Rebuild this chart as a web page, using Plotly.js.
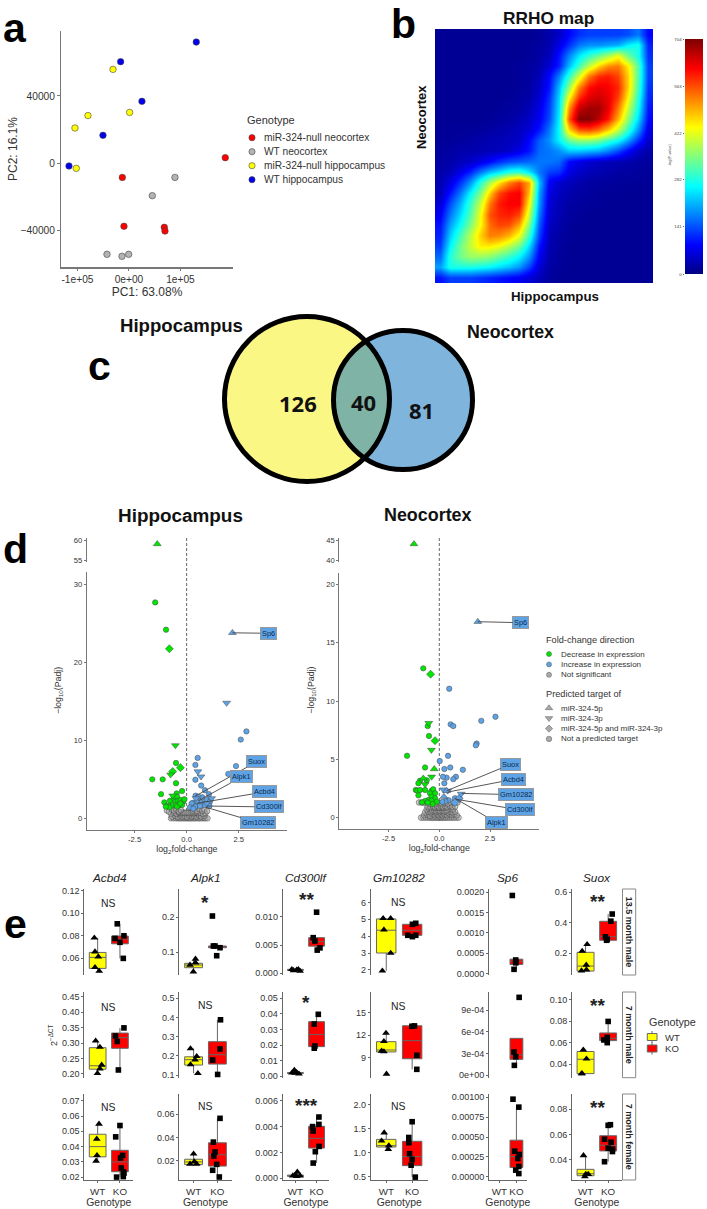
<!DOCTYPE html>
<html><head><meta charset="utf-8">
<script src="https://cdn.plot.ly/plotly-3.0.1.min.js"></script>
<style>html,body{margin:0;padding:0;background:#fff}#g{width:707px;height:1209px}</style></head>
<body><div id="g"></div>
<script>
// ---------- panel a: PCA ----------
const pcaNames = ['miR-324-null neocortex','WT neocortex','miR-324-null hippocampus','WT hippocampus'];
const pcaColors = ['#ff0000','#b3b3b3','#ffff00','#0000ee'];
const pcaKoNeo = [[187000,3200],[-12900,-8600],[-9700,-37800],[68600,-38400],[69900,-40600]];
const pcaWtNeo = [[89300,-8600],[45300,-19500],[-42700,-54500],[-13600,-55700],[-600,-54500]];
const pcaKoHip = [[-31000,55900],[-79600,28300],[1300,30200],[-104900,20900],[-102300,-3200]];
const pcaWtHip = [[130700,72200],[-16200,60500],[25200,36800],[-50500,16500],[-116500,-1800]];

const rrhoTicks = [0,141,282,422,563,704];
const rrhoScale = [[0,'#00007f'],[0.125,'#0000ff'],[0.375,'#00ffff'],[0.625,'#ffff00'],[0.875,'#ff0000'],[1,'#7f0000']];
const rrhoZ = [
[15,15,15,15,15,15,15,15,15,15,18,30,50,90,120,130,130,130,130,140,170,90],
[15,15,15,15,15,15,15,15,15,18,22,35,70,120,170,190,190,200,210,260,280,110],
[15,15,15,15,15,15,15,15,15,18,25,40,100,180,250,300,340,380,430,340,280,120],
[15,15,15,15,15,15,15,15,18,22,30,60,110,220,310,400,470,520,530,450,320,130],
[15,15,15,15,15,15,15,15,18,22,40,90,180,300,420,540,590,600,570,470,320,130],
[15,15,15,15,15,15,15,15,18,25,50,100,220,370,530,610,630,620,590,470,310,120],
[15,15,15,15,15,15,15,18,22,30,60,120,240,450,590,640,650,630,570,440,290,110],
[15,15,15,15,15,15,18,22,25,40,70,130,250,520,660,680,680,630,530,400,270,100],
[15,15,15,15,15,18,22,25,35,50,80,140,260,560,700,700,660,600,490,360,240,90],
[18,18,18,18,22,25,30,35,45,60,100,170,270,470,560,570,540,480,400,300,190,70],
[18,18,22,25,30,35,38,42,50,90,150,190,260,340,370,370,350,310,270,200,120,50],
[22,25,30,32,35,38,40,50,70,100,160,170,190,230,230,220,210,180,140,90,50,30],
[25,30,40,50,70,90,120,140,150,160,170,170,160,90,70,55,45,40,35,30,25,20],
[30,40,70,110,170,220,250,290,300,250,170,130,120,70,50,40,35,30,25,22,20,18],
[35,70,120,190,290,380,460,530,570,500,220,80,55,40,32,25,22,20,18,18,18,15],
[40,100,170,260,350,470,570,610,620,480,200,70,45,32,25,22,18,18,18,15,15,15],
[60,140,210,300,400,530,600,620,620,440,190,60,38,25,22,18,18,15,15,15,15,15],
[80,170,240,320,430,560,590,600,570,400,170,55,35,22,18,15,15,15,15,15,15,15],
[100,200,270,350,440,540,570,560,500,350,150,45,30,18,15,15,15,15,15,15,15,15],
[110,230,310,390,470,530,520,490,430,300,130,40,25,18,15,15,15,15,15,15,15,15],
[130,260,340,400,450,450,430,390,340,240,100,35,22,15,15,15,15,15,15,15,15,15],
[160,290,340,370,370,360,330,300,260,190,80,32,20,15,15,15,15,15,15,15,15,15],
[200,280,280,280,270,260,240,220,190,130,60,25,18,15,15,15,15,15,15,15,15,15],
[100,130,130,130,120,110,100,90,80,60,40,22,15,15,15,15,15,15,15,15,15,15]];

// ---------- panel c: Venn ----------
const vennNames = ['Hippocampus','Neocortex'];
const vennCounts = [126,40,81];

// ---------- panel d: volcano plots [log2FC, -log10(Padj)] ----------
const hipDecCircle = [[-1.51,27.7],[-.99,24.2],[-.51,7.1],[-1.65,5],[-1.15,5],[-.51,4.5],[-.22,3.5],[-1.23,3.1],[-.48,3.2],[-1.07,2.05],[-.96,1.6],[-.8,1.6],[-.8,2.27],[-.61,2.56],[-.46,2.78],[-.54,2.14],[-.4,2.27],[-.29,2.35],[-.16,2.14],[-.11,2.44],[-.67,1.7],[-.51,1.7],[-.35,1.67],[-.22,1.7],[-.83,1.4],[-1,1.5],[-.46,1.5],[-.3,1.9]];
const hipDecDiamond = [[-.83,21.75],[-.3,6.5],[-.67,6]];
const hipDecDown = [[-.54,9.35],[-.77,5.6],[-.67,2.9]];
const hipDecUp = [[-1.41,59]];
const hipIncCircle = [[2.87,11.15],[2.6,10.1],[.53,7.75],[.42,6.85],[2.37,6.7],[2,5.7],[.42,4.95],[.7,4.2],[.88,3.6],[1.07,3.1],[.43,2.9],[.75,2.7],[.32,2],[.56,2.78],[.24,1.92],[.51,2.14],[.72,2],[.96,2.35],[1.12,2.14],[.42,1.5],[.64,1.58],[.88,1.7],[1.09,1.58],[.16,1.4],[.32,1.24]];
const hipIncDown = [[1.92,14.8],[.54,6],[.69,5.35],[.45,2.56],[.96,1.92],[1.2,2.56]];
const hipIncUp = [[2.2,23.8]];
const hipGrey = [[-.75,0],[-.62,0],[-.5,0],[-.4,0],[-.32,0],[-.25,0],[-.15,0],[-.08,0],[0,0],[.08,0],[.15,0],[.22,0],[.3,0],[.38,0],[.45,0],[.55,0],[.62,0],[.72,0],[.82,0],[.9,0],[1,0],
[-.7,.2],[-.55,.3],[-.42,.15],[-.3,.35],[-.2,.2],[-.1,.3],[.02,.15],[.12,.35],[.25,.2],[.35,.3],[.48,.2],[.6,.35],[.7,.2],[.85,.3],
[-.75,.6],[-.6,.7],[-.48,.55],[-.36,.7],[-.25,.6],[-.15,.7],[-.05,.65],[.05,.7],[.15,.62],[.25,.7],[.35,.6],[.45,.7],[.55,.65],[.65,.7],[.78,.55],[.9,.65],
[-.3,.72],[-.2,.75],[-.1,.72],[0,.75],[.1,.72],[.2,.75],[.3,.72],[-.4,.78],[.4,.78],
[-.95,1],[-.85,.85],[-.7,1.1],[-.6,.95],[-.5,1.15],[-.38,.9],[-.28,1.05],[.3,.95],[.42,1.1],[.5,.9],[.62,1.15],[.75,.95],[.85,1.1],[.98,.9]];
const neoDecCircle = [[-.79,12.8],[-.57,7.85],[-.51,7],[-1.59,5.3],[-.7,4.3],[-.62,3.2],[-.95,3.17],[-1.03,2.95],[-1.16,2.37],[-1.08,2.31],[-.95,2.37],[-.7,2.37],[-1.03,1.91],[-.38,2.3],[-.3,2.43],[-.46,2.09],[-.21,2.09],[-.38,1.8],[-.21,1.66],[-.54,1.51],[-.38,1.46],[-.7,1.43],[-.13,1.37],[-.85,1.31],[-.33,1.17],[-.57,1.29]];
const neoDecDiamond = [[-.43,12.3],[-.21,6.6]];
const neoDecDown = [[-.52,8.1],[-.39,5.8],[-.38,3.5],[-.7,2.85]];
const neoDecUp = [[-1.25,44],[-.25,4.17],[-.79,3.37]];
const neoIncCircle = [[.49,11.05],[2.77,8.65],[2.07,8.3],[.56,8],[.69,7.85],[1.84,6.35],[1.8,6.2],[.43,5.3],[.02,4.85],[.25,4.17],[.54,4.3],[1.16,4.1],[.82,3.5],[.69,3.3],[.36,3.43],[.18,3.5],[.25,2.95],[.77,1.66],[.45,1.5],[.3,1.4],[.15,1.35]];
const neoIncDown = [[1.08,2.03],[.41,2.3],[.2,2.4]];
const neoIncUp = [[1.9,16.8],[.23,1.8],[.36,2.3]];
const neoIncDiamond = [[.98,1.65],[.77,1.3]];
const neoGrey = [[-.9,0],[-.78,0],[-.66,0],[-.55,0],[-.45,0],[-.36,0],[-.28,0],[-.2,0],[-.12,0],[-.05,0],[.03,0],[.1,0],[.17,0],[.25,0],[.33,0],[.42,0],[.52,0],[.62,0],[.72,0],[.84,0],[.95,0],
[-.75,.2],[-.6,.25],[-.46,.15],[-.34,.3],[-.22,.2],[-.12,.3],[-.03,.2],[.06,.3],[.16,.2],[.26,.28],[.38,.2],[.5,.3],[.62,.22],[.74,.3],[.86,.2],
[-.7,.45],[-.55,.5],[-.42,.45],[-.3,.55],[-.2,.45],[-.1,.55],[0,.45],[.1,.55],[.2,.45],[.3,.55],[.42,.45],[.54,.5],[.66,.45],[.78,.5],
[-.62,.7],[-.5,.75],[-.38,.68],[-.28,.75],[-.18,.68],[-.08,.75],[.02,.68],[.12,.75],[.22,.68],[.32,.75],[.44,.68],[.56,.75],[.68,.7],
[-.35,.55],[-.25,.62],[-.15,.55],[-.05,.62],[.05,.55],[.15,.62],[.25,.55],[.35,.62],[-.3,.85],[-.2,.82],[-.1,.85],[0,.82],[.1,.85],[.2,.82],[.3,.85],
[-.58,.95],[-.44,.9],[-.32,1],[-.22,.9],[-.12,1],[-.02,.9],[.08,1],[.18,.9],[.28,1],[.4,.9],[.52,1],[.64,.92],[.78,.95],
[-1,1.3],[-.88,1.3],[-.75,1.25],[-.62,1.3],[-.48,1.2],[-.32,1.25],[-.16,1.2],[.02,1.25],[.12,1.2],[.28,1.25],[.42,1.2],[.58,1.3],[.74,1.25],[.9,1.3]];
const foldLegend = ['Decrease in expression','Increase in expression','Not significant'];
const targetLegend = ['miR-324-5p','miR-324-3p','miR-324-5p and miR-324-3p','Not a predicted target'];

// ---------- panel e: qPCR, indexed [row][gene] ----------
const eGenes = ['Acbd4','Alpk1','Cd300lf','Gm10282','Sp6','Suox'];
const eRows = ['13.5 month male','7 month male','7 month female'];
const eTickText = [
[['0.06','0.08','0.10','0.12'],['0.1','0.2'],['0.000','0.005','0.010'],['2','3','4','5','6'],['0.0000','0.0005','0.0010','0.0015','0.0020'],['0.2','0.4','0.6']],
[['0.20','0.25','0.30','0.35','0.40','0.45'],['0.1','0.2','0.3','0.4','0.5'],['0.00','0.01','0.02','0.03','0.04','0.05'],['9','12','15'],['0e+00','3e-04','6e-04','9e-04'],['0.04','0.06','0.08','0.10']],
[['0.02','0.03','0.04','0.05','0.06','0.07'],['0.02','0.04','0.06'],['0.000','0.002','0.004','0.006'],['0.5','1.0','1.5','2.0'],['0.00000','0.00025','0.00050','0.00075','0.00100'],['0.04','0.06','0.08']]];
const eYRange = [
[[.0449,.1215],[.0337,.2816],[-.0003,.0149],[1.7,6.79],[-.00004,.00208],[.055,.622]],
[[.188,.465],[.086,.533],[-.0009,.054],[6.39,17.74],[-.000037,.00115],[.0275,.107]],
[[.0182,.0744],[.0033,.0775],[-.00013,.00652],[.43,2.23],[-.00004,.00104],[.0236,.0922]]];
const eSignif = [['NS','*','**','NS','','**'],['NS','NS','*','NS','','**'],['NS','NS','***','NS','','**']];
const eWTPoints = [
[[[-.15,.078],[-.12,.0656],[.03,.0612],[-.12,.0517],[.07,.0484]],[[.08,.0798],[-.15,.0626],[.08,.0692],[-.01,.0432]],[[-.17,.0007],[.06,.0006],[.14,.0007],[.22,.0004],[-.09,.0005]],[[-.12,5.05],[.17,5.05],[-.09,4.38],[.17,3],[-.15,1.95]],[],[[.07,.257],[-.15,.213],[.03,.121],[-.18,.083],[.04,.09]]],
[[[-.09,.307],[.1,.287],[.18,.229],[.1,.217],[-.01,.202]],[[-.13,.238],[.13,.197],[.06,.18],[-.13,.154],[.18,.109]],[[-.05,.004],[-.16,.0022],[.06,.0025],[.17,.0016],[-.02,.002]],[[-.01,12.3],[-.09,11.2],[-.18,9.93],[-.09,9.85],[.01,6.88]],[],[[-.1,.0534],[.04,.045],[-.15,.0313],[-.18,.0313]]],
[[[.06,.0548],[-.04,.045],[-.03,.0343],[-.07,.0306]],[[0,.0258],[.03,.0191],[-.15,.0171],[.13,.0171]],[[.09,.00049],[-.12,.0002],[.06,.00015],[.22,.0002],[-.02,.00025]],[[-.08,1.42],[-.18,1.25],[.1,1.15],[.08,1.07]],[],[[-.09,.0432],[.01,.0282],[.12,.0282],[-.03,.0263]]]];
const eKOPoints = [
[[[-.12,.0905],[.18,.0798],[-.22,.0775],[0,.074],[.15,.0597]],[[-.21,.2037],[-.1,.1173],[-.17,.1173],[.11,.1124],[-.03,.0893]],[[0,.0108],[-.16,.0063],[-.08,.0057],[.16,.0045],[.03,.0041]],[[.14,4.76],[.01,4.7],[-.17,4.05],[.01,3.97],[.14,4.05]],[[-.24,.00192],[-.04,.00033],[-.04,.00028],[-.14,.0001],[-.04,.00026]],[[.18,.457],[.12,.41],[-.12,.307],[-.07,.284],[-.04,.29]]],
[[[.18,.349],[-.2,.323],[-.12,.305],[-.07,.213]],[[.13,.388],[.11,.236],[-.2,.178],[.01,.103]],[[.08,.0397],[-.11,.0335],[-.08,.0194],[-.11,.018]],[[-.01,13.2],[.09,13.25],[.18,9.36],[.18,7.5]],[[.16,.001076],[-.14,.000318],[-.04,.000253],[-.12,.000134]],[[0,.0797],[-.04,.0649],[-.19,.0625],[-.04,.06]]],
[[[0,.0538],[-.19,.0464],[.12,.0343],[.03,.0326],[.06,.0261],[.15,.0235],[.18,.0227],[-.15,.0201],[.15,.0204]],[[.11,.0565],[-.17,.036],[-.1,.0274],[-.15,.024],[-.03,.0168],[-.2,.0117],[.08,.0059]],[[.11,.00474],[.11,.00417],[-.19,.004],[-.16,.00366],[.12,.00247],[-.06,.00206],[-.16,.00118]],[[0,1.65],[-.13,1.32],[-.13,1.21],[-.1,.98],[0,.86],[-.04,.74],[.12,.49]],[[-.2,.000975],[.14,.000875],[-.1,.000322],[.16,.00028],[.08,.00023],[.14,.00013],[-.04,.000084],[.14,.000041]],[[.1,.0677],[0,.0672],[-.16,.0561],[.13,.0538],[0,.049],[.19,.0482],[.19,.0463],[-.16,.0382]]]];
// box: [lower whisker, q1, median, q3, upper whisker]
const eWTBox = [
[[.0484,.0508,.0606,.065,.078],[.0432,.0547,.0625,.0674,.0798],[.0004,.0005,.0006,.0007,.0007],[1.95,3,4.35,5.02,5.05],null,[.081,.081,.114,.2045,.257]],
[[.202,.2155,.2265,.285,.307],[.109,.152,.18,.195,.238],[.0016,.0018,.0021,.0024,.004],[9.8,9.8,10.06,11.16,12.3],null,[.0313,.0313,.0446,.0518,.0534]],
[[.0306,.0333,.04,.0481,.0548],[.0166,.0166,.0189,.0212,.0258],[.00015,.00015,.0002,.00025,.00049],[1.07,1.12,1.15,1.28,1.42],null,[.0263,.027,.0286,.0321,.0432]]];
const eKOBox = [
[[.0597,.0727,.0769,.0796,.0905],[.1124,.1124,.1145,.1173,.1173],[.0041,.0048,.0056,.0063,.0063],[3.97,4.05,4.35,4.7,4.76],[.0001,.00022,.0003,.00035,.00035],[.284,.284,.307,.409,.457]],
[[.213,.283,.3175,.3323,.349],[.103,.157,.206,.274,.388],[.018,.019,.0267,.035,.0397],[7.5,8.9,11.3,13.27,13.27],[.000134,.000217,.00028,.000508,.000508],[.06,.0619,.064,.069,.0797]],
[[.0201,.0236,.03,.0376,.0538],[.0059,.0153,.0251,.0354,.0565],[.00118,.00234,.00309,.00402,.00474],[.49,.73,.92,1.24,1.65],[.000041,.000117,.000255,.00046,.000875],[.0382,.0468,.0513,.0589,.0677]]];

// ---------- layout helpers ----------
const W = 707, H = 1209, FONT = 'Liberation Sans, Arial, sans-serif', TXT = '#333';
const traces = [], shapes = [], annotations = [];
const layout = {width:W,height:H,margin:{l:0,r:0,t:0,b:0},paper_bgcolor:'#fff',plot_bgcolor:'rgba(0,0,0,0)',showlegend:false,font:{family:FONT,color:TXT},shapes,annotations};
let axisCount = 1;
function addAxes(l,r,t,b,xo,yo){
  axisCount++;
  const xk='xaxis'+axisCount, yk='yaxis'+axisCount;
  layout[xk]=Object.assign({domain:[l/W,r/W],anchor:'y'+axisCount,zeroline:false,showgrid:false,fixedrange:true},xo);
  layout[yk]=Object.assign({domain:[1-b/H,1-t/H],anchor:'x'+axisCount,zeroline:false,showgrid:false,fixedrange:true},yo);
  return ['x'+axisCount,'y'+axisCount];
}
function note(text,x,y,size,o){
  o=o||{};
  annotations.push({text,xref:'paper',yref:'paper',x:x/W,y:1-y/H,showarrow:false,xanchor:o.a||'center',yanchor:'middle',textangle:o.angle||0,font:{family:o.family||FONT,size,color:o.color||TXT}});
}
// page-wide pixel axes used by legend keys and the Venn diagram
layout.xaxis={domain:[0,1],range:[0,W],visible:false,fixedrange:true};
layout.yaxis={domain:[0,1],range:[H,0],visible:false,fixedrange:true};
function pts(p,x,y,name,marker){traces.push({type:'scatter',mode:'markers',x:p.map(d=>d[0]),y:p.map(d=>d[1]),xaxis:x,yaxis:y,name,marker,cliponaxis:false,hoverinfo:'skip'});}

// ---------- letters ----------
[['a',15,27.8],['b',403,24],['c',99,365.8],['d',15,548.8],['e',15,923.8]].forEach(d=>note('<b>'+d[0]+'</b>',d[1],d[2],41,{color:'#000'}));

// ---------- panel a ----------
(function(){
  const ax=addAxes(61,233,31,267,
    {range:[-132000,202000],tickvals:[-100000,0,100000],ticktext:['-1e+05','0e+00','1e+05'],showline:true,linecolor:'#777',linewidth:1.5,ticks:'outside',ticklen:2.5,tickcolor:'#777',tickfont:{size:10.2,color:TXT},title:{text:'PC1: 63.08%',font:{size:12,color:TXT},standoff:2}},
    {range:[-62090,78800],tickvals:[-40000,0,40000],showline:true,linecolor:'#777',linewidth:1.5,ticks:'outside',ticklen:2.5,tickcolor:'#777',tickfont:{size:10.2,color:TXT},tickformat:'d',title:{text:'PC2: 16.1%',font:{size:12,color:TXT},standoff:0}});
  [pcaKoNeo,pcaWtNeo,pcaKoHip,pcaWtHip].forEach((p,i)=>pts(p,ax[0],ax[1],pcaNames[i],{size:6.5,color:pcaColors[i],line:{color:'#444',width:.6}}));
  note('Genotype',245,120,11,{a:'left'});
  pcaNames.forEach((n,i)=>{
    const y=137.7+i*14;
    pts([[252,y]],'x','y',n,{size:6.2,color:pcaColors[i],line:{color:'#444',width:.6}});
    note(n,262,y,10.2,{a:'left'});
  });
})();

// ---------- panel b ----------
(function(){
  const ax=addAxes(435,653,29,283,{range:[-.5,21.5],visible:false},{range:[23.5,-.5],visible:false});
  traces.push({type:'heatmap',z:rrhoZ,zmin:0,zmax:704,colorscale:rrhoScale,zsmooth:'best',showscale:false,xaxis:ax[0],yaxis:ax[1],hoverinfo:'skip'});
  const bar=addAxes(685,703,39,274,{range:[0,1],visible:false},{range:[0,704],tickvals:rrhoTicks,ticks:'outside',ticklen:1.5,tickcolor:'#666',tickfont:{size:4.4,color:'#444'},tickformat:'d',showline:false});
  traces.push({type:'heatmap',x:[0,1],y:rrhoTicks,z:rrhoTicks.map(v=>[v,v]),zmin:0,zmax:704,colorscale:rrhoScale,zsmooth:'best',showscale:false,xaxis:bar[0],yaxis:bar[1],hoverinfo:'skip'});
  note('<b>RRHO map</b>',548,18,17.3,{color:'#111'});
  note('<b>Neocortex</b>',421,117,13,{angle:-90,color:'#111'});
  note('<b>Hippocampus</b>',555,296,13.3,{color:'#111'});
  note('-log(P-value)',670,155,3.8,{angle:-90,color:'#444'});
})();

// ---------- panel c ----------
(function(){
  const k={xref:'x',yref:'y',layer:'above'};
  shapes.push(Object.assign({type:'circle',x0:224.5,x1:389.5,y0:316.5,y1:481.5,fillcolor:'#FBF785',line:{width:0}},k));
  shapes.push(Object.assign({type:'circle',x0:333.5,x1:472.5,y0:330.5,y1:469.5,fillcolor:'#7FB5DD',line:{width:0}},k));
  shapes.push(Object.assign({type:'path',path:'M365.4 340 C398 372 398 426 365.4 458 C321.3 430.3 321.3 367.7 365.4 340 Z',fillcolor:'#7FB3A5',line:{width:0}},k));
  shapes.push(Object.assign({type:'circle',x0:224.5,x1:389.5,y0:316.5,y1:481.5,line:{color:'#000',width:5}},k));
  shapes.push(Object.assign({type:'circle',x0:333.5,x1:472.5,y0:330.5,y1:469.5,line:{color:'#000',width:5}},k));
  note('<b>'+vennNames[0]+'</b>',181,325,18.6,{color:'#111'});
  note('<b>'+vennNames[1]+'</b>',510,332,17.8,{color:'#111'});
  [[298,403],[363,402],[422,410]].forEach((p,i)=>note('<b>'+vennCounts[i]+'</b>',p[0],p[1],22,{family:'Open Sans, sans-serif',color:'#111'}));
})();

// ---------- panel d ----------
const GREEN='#00e600', BLUE='#5ea3e6';
function volcano(o){
  const xr=o.xr, lin={showline:true,linecolor:'#777',linewidth:1,ticks:'outside',ticklen:2,tickcolor:'#777',tickfont:{size:7.6,color:TXT}};
  const low=addAxes(o.l,o.r,o.lowT,o.lowB,Object.assign({range:xr,tickvals:[-2.5,0,2.5],ticktext:['-2.5','0.0','2.5'],title:{text:'log<sub>2</sub>fold-change',font:{size:8.8,color:TXT},standoff:2}},lin),Object.assign({range:o.yrLow,tickvals:o.ticksLow},lin));
  const up=addAxes(o.l,o.r,o.upT,o.upB,{range:xr,visible:false},Object.assign({range:o.yrUp,tickvals:o.ticksUp},lin));
  shapes.push({type:'line',xref:low[0],yref:'paper',x0:0,x1:0,y0:1-538/H,y1:1-823/H,line:{color:'#666',width:1,dash:'3px,2px'},layer:'below'});
  const greyM={size:5.6,color:'rgba(165,165,165,.55)',line:{color:'#444',width:.5}};
  pts(o.grey,low[0],low[1],'Not significant',greyM);
  const mk=(c,s)=>({size:s[1],symbol:s[0],color:c,line:{color:'#444',width:.5}});
  const C=['circle',5.4],D=['diamond',6.2],Dn=['triangle-down',6.8],Up=['triangle-up',6.8];
  pts(o.decC,low[0],low[1],'Decrease',mk(GREEN,C));pts(o.decD,low[0],low[1],'Decrease',mk(GREEN,D));pts(o.decDn,low[0],low[1],'Decrease',mk(GREEN,Dn));
  pts(o.decUp.slice(1),low[0],low[1],'Decrease',mk(GREEN,Up));pts(o.decUp.slice(0,1),up[0],up[1],'Decrease',mk(GREEN,Up));
  pts(o.incC,low[0],low[1],'Increase',mk(BLUE,C));pts(o.incD,low[0],low[1],'Increase',mk(BLUE,D));pts(o.incDn,low[0],low[1],'Increase',mk(BLUE,Dn));pts(o.incUp,low[0],low[1],'Increase',mk(BLUE,Up));
  const px=v=>o.l+(v-xr[0])/(xr[1]-xr[0])*(o.r-o.l), py=v=>o.lowB-(v-o.yrLow[0])/(o.yrLow[1]-o.yrLow[0])*(o.lowB-o.lowT);
  o.labels.forEach(d=>annotations.push({text:d[0],xref:low[0],yref:low[1],x:d[1],y:d[2],ax:d[3]-px(d[1]),ay:d[4]-py(d[2]),xanchor:'center',yanchor:'middle',showarrow:true,arrowhead:0,arrowwidth:.9,arrowcolor:'#444',standoff:0,bgcolor:BLUE,bordercolor:'#999',borderwidth:1,borderpad:1,font:{family:FONT,size:7.4,color:'#0d2a4a'}}));
  note('<b>'+o.title+'</b>',o.tx,515,o.ts,{color:'#111'});
  note('\u2212log<sub>10</sub>(Padj)',o.yt,690,8.8,{angle:-90});
}
volcano({title:'Hippocampus',tx:180,ts:18.9,yt:59,l:86.7,r:287,lowT:572,lowB:830,upT:538,upB:562,xr:[-4.8,4.82],yrLow:[-1.5,31.6],yrUp:[54.5,60.5],ticksLow:[0,10,20,30],ticksUp:[55,60],
  grey:hipGrey,decC:hipDecCircle,decD:hipDecDiamond,decDn:hipDecDown,decUp:hipDecUp,incC:hipIncCircle,incD:[],incDn:hipIncDown,incUp:hipIncUp,
  labels:[['Sp6',2.2,23.8,268.3,633.3],['Suox',.43,2.86,256.7,761.7],['Alpk1',.56,2.26,241.7,777],['Acbd4',.48,1.92,264.3,792],['Cd300lf',.96,1.58,269,807],['Gm10282',.93,1.41,258.3,822.7]]});
volcano({title:'Neocortex',tx:428,ts:17.9,yt:311.7,l:339.3,r:539.3,lowT:572.7,lowB:829.3,upT:538,upB:562,xr:[-4.93,4.93],yrLow:[-1,21],yrUp:[39.5,45.5],ticksLow:[0,5,10,15,20],ticksUp:[40,45],
  grey:neoGrey,decC:neoDecCircle,decD:neoDecDiamond,decDn:neoDecDown,decUp:neoDecUp,incC:neoIncCircle,incD:neoIncDiamond,incDn:neoIncDown,incUp:neoIncUp,
  labels:[['Sp6',1.9,16.8,520.7,622.7],['Suox',.36,2.3,510.7,764.3],['Acbd4',.44,2.2,513.3,779.3],['Gm10282',1.1,2.08,516,794.7],['Cd300lf',.85,1.57,520,810],['Alpk1',.77,1.66,496,822.3]]});
note('Fold-change direction',544,640,9.2,{a:'left'});
foldLegend.forEach((t,i)=>{const y=654+i*10.4;
  pts([[549,y]],'x','y',t,{size:5,color:[GREEN,BLUE,'#aaa'][i],line:{color:'#555',width:.5}});
  note(t,559,y,8,{a:'left'});});
note('Predicted target of',544,694,9.2,{a:'left'});
targetLegend.forEach((t,i)=>{const y=708+i*10.3;
  pts([[549,y]],'x','y',t,{size:i<2?6.5:5.5,symbol:['triangle-up','triangle-down','diamond','circle'][i],color:'#aaa',line:{color:'#555',width:.5}});
  note(t,559,y,8,{a:'left'});});

// ---------- panel e ----------
const eCols=[[84.3,133.3],[179.3,231.7],[282.7,329.3],[370.7,427.7],[489,526.7],[572,621.7]];
const ePanelRows=[[889,975],[992,1077.7],[1094,1180]];
const eTitleX=[109.5,205,306,399,507.7,597];
const eSigX=[108,205,306,399,508,597];
const eSigY=[[904,898.5,896,902.7,0,897.5],[1007,1005,998.5,1006.7,0,1001.5],[1107,1106,1101.5,1106.7,0,1104]];
eRows.forEach((rowName,r)=>{
  const [t,b]=ePanelRows[r];
  eGenes.forEach((g,c)=>{
    const [l,rt]=eCols[c], last=r===2;
    const ax=addAxes(l,rt,t,b,
      last?{range:[-.6,1.6],tickvals:[0,1],ticktext:['WT','KO'],showline:true,linecolor:'#666',linewidth:1,ticks:'outside',ticklen:2,tickcolor:'#666',tickfont:{size:9.8,color:TXT},title:{text:'Genotype',font:{size:10.4,color:TXT},standoff:1}}:{range:[-.6,1.6],visible:false},
      {range:eYRange[r][c],tickvals:eTickText[r][c].map(Number),ticktext:eTickText[r][c],showline:true,linecolor:'#666',linewidth:1,ticks:'outside',ticklen:2,tickcolor:'#666',tickfont:{size:9,color:TXT}});
    [[eWTBox,'#ffff00',0,'WT'],[eKOBox,'#ff0000',1,'KO']].forEach(d=>{
      const s=d[0][r][c]; if(!s) return;
      traces.push({type:'box',x:[d[2]],lowerfence:[s[0]],q1:[s[1]],median:[s[2]],q3:[s[3]],upperfence:[s[4]],width:.75,whiskerwidth:0,fillcolor:d[1],line:{color:'#666',width:1},boxpoints:false,xaxis:ax[0],yaxis:ax[1],name:d[3],hoverinfo:'skip'});
    });
    pts(eWTPoints[r][c].map(p=>[p[0],p[1]]),ax[0],ax[1],'WT',{symbol:'triangle-up',size:6.8,color:'#000',line:{width:0}});
    pts(eKOPoints[r][c].map(p=>[1+p[0],p[1]]),ax[0],ax[1],'KO',{symbol:'square',size:5.6,color:'#000',line:{width:0}});
    if(eSignif[r][c]){
      const star=eSignif[r][c]!=='NS';
      note(star?'<b>'+eSignif[r][c]+'</b>':eSignif[r][c],eSigX[c],eSigY[r][c]+(star?3.5:0),star?19:10.4,{color:'#222'});
    }
    if(r===0) note('<i>'+g+'</i>',eTitleX[c],877.7,11.8,{color:'#222'});
  });
  shapes.push({type:'rect',xref:'x',yref:'y',x0:622.5,x1:635.7,y0:t,y1:b,fillcolor:'#fff',line:{color:'#888',width:1},layer:'above'});
  note('<b>'+rowName+'</b>',629.2,(t+b)/2,9,{angle:90,color:'#222'});
});
note('2<sup>\u2212\u0394CT</sup>',53,1035,9,{angle:-90});
note('Genotype',647,1021.7,10.8,{a:'left'});
[['WT','#ffff00',1037],['KO','#ff0000',1048.5]].forEach(d=>{
  shapes.push({type:'line',xref:'x',yref:'y',x0:652,x1:652,y0:d[2]-6,y1:d[2]+6,line:{color:'#666',width:1},layer:'below'});
  shapes.push({type:'rect',xref:'x',yref:'y',x0:647.3,x1:657,y0:d[2]-3.5,y1:d[2]+3.5,fillcolor:d[1],line:{color:'#666',width:1},layer:'above'});
  note(d[0],663,d[2],9.6,{a:'left'});
});
pts([[652,1037]],'x','y','WT',{symbol:'triangle-up',size:6,color:'#000',line:{width:0}});
pts([[652,1048.5]],'x','y','KO',{symbol:'square',size:5,color:'#000',line:{width:0}});

Plotly.newPlot('g',traces,layout,{staticPlot:true,displayModeBar:false});
</script></body></html>
